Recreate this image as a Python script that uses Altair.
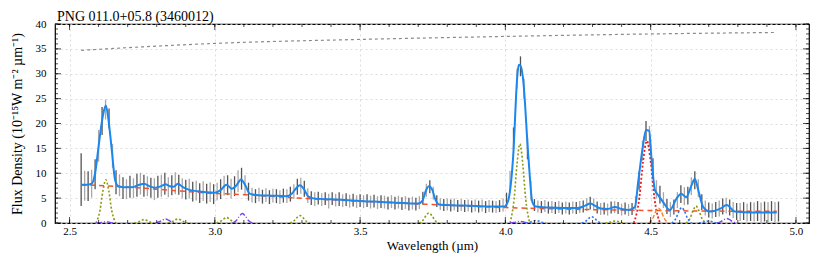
import altair as alt
import pandas as pd

TITLE = "PNG 011.0+05.8 (3460012)"
X_TITLE = "Wavelength (µm)"
Y_TITLE = "Flux Density (10⁻¹⁵W m⁻² µm⁻¹)"

X_MAJOR = [2.5, 3.0, 3.5, 4.0, 4.5, 5.0]
X_MINOR = [round(2.5 + 0.1 * i, 1) for i in range(26)]
Y_MAJOR = [0, 5, 10, 15, 20, 25, 30, 35, 40]
Y_MINOR = list(range(0, 41))

# observed spectrum (error bars)
OBS_START = 2.54
OBS_STEP = 0.012
OBS_FLUX = [
    8.7, 7.5, 7.4, 7.9, 9.8, 15.5, 20.5, 22.8, 21.0, 13.5,
    8.2, 7.6, 7.0, 6.8, 7.3, 7.0, 7.6, 7.9, 7.5, 7.4,
    7.1, 6.8, 7.3, 7.5, 7.9, 7.2, 7.6, 8.0, 7.7, 7.0,
    6.7, 6.9, 6.3, 6.5, 6.0, 6.4, 5.9, 6.2, 5.8, 6.3,
    6.8, 7.5, 7.6, 6.9, 7.4, 8.4, 8.9, 7.6, 6.3, 5.6,
    5.4, 5.7, 5.3, 5.6, 5.2, 5.5, 5.4, 5.2, 5.5, 5.4,
    5.8, 6.3, 7.3, 7.5, 6.9, 5.5, 5.0, 4.8, 5.0, 4.7,
    4.9, 4.4, 4.9, 4.6, 4.8, 4.5, 4.7, 4.4, 4.6, 4.3,
    4.5, 4.3, 4.5, 4.2, 4.4, 4.1, 4.3, 4.2, 4.0, 4.3,
    4.0, 4.2, 3.9, 4.1, 3.8, 4.0, 3.8, 4.1, 5.0, 6.6,
    7.3, 6.0, 4.4, 3.8, 3.6, 3.7, 3.5, 3.7, 3.4, 3.6,
    3.4, 3.5, 3.3, 3.5, 3.3, 3.5, 3.2, 3.4, 3.3, 3.2,
    3.4, 3.6, 4.6, 8.5, 17.0, 29.0, 31.5, 27.0, 15.0, 6.5,
    3.6, 3.3, 3.2, 3.4, 3.1, 3.2, 3.0, 3.2, 2.9, 3.1,
    2.9, 3.1, 3.0, 3.2, 3.3, 3.7, 4.0, 3.7, 3.1, 2.8,
    2.9, 2.7, 3.1, 3.2, 3.0, 2.7, 2.9, 2.6, 2.8, 4.0,
    8.5, 14.5, 18.5, 17.5, 11.0, 6.8, 5.7, 4.6, 3.3, 2.7,
    3.2, 4.6, 5.8, 5.4, 5.5, 7.4, 8.6, 7.0, 4.2, 3.0,
    2.6, 2.4, 2.7, 2.9, 3.3, 3.5, 3.1, 2.6, 2.3, 2.2,
    2.4, 2.1, 2.3, 2.2, 2.4, 2.1, 2.3, 2.2, 2.4, 2.2,
    2.3,
]
OBS_ERR = [
    5.3, 3.0, 3.0, 2.8, 3.0, 3.2, 2.8, 2.0, 2.0, 2.4,
    2.4, 2.2, 2.2, 2.0, 2.2, 2.0, 2.3, 2.2, 2.2, 2.0,
    2.0, 2.2, 2.2, 2.2, 2.2, 2.0, 2.0, 2.2, 2.0, 2.0,
    2.0, 2.0, 2.0, 2.0, 2.0, 2.0, 2.0, 2.0, 2.0, 1.8,
    2.0, 2.0, 2.0, 2.0, 2.0, 2.2, 2.2, 2.0, 1.8, 1.5,
    1.4, 1.4, 1.4, 1.4, 1.4, 1.4, 1.4, 1.4, 1.4, 1.4,
    1.5, 1.5, 1.6, 1.6, 1.6, 1.5, 1.4, 1.4, 1.3, 1.3,
    1.3, 1.5, 1.3, 1.3, 1.4, 1.3, 1.3, 1.3, 1.3, 1.3,
    1.3, 1.3, 1.3, 1.3, 1.3, 1.3, 1.3, 1.3, 1.3, 1.3,
    1.3, 1.3, 1.3, 1.3, 1.3, 1.3, 1.3, 1.3, 1.3, 1.3,
    1.3, 1.3, 1.2, 1.2, 1.2, 1.2, 1.2, 1.2, 1.2, 1.2,
    1.2, 1.2, 1.2, 1.2, 1.2, 1.2, 1.2, 1.2, 1.2, 1.2,
    1.2, 1.3, 1.5, 2.0, 2.2, 2.0, 2.0, 2.0, 2.2, 2.0,
    1.2, 1.2, 1.2, 1.2, 1.2, 1.2, 1.2, 1.2, 1.2, 1.2,
    1.2, 1.2, 1.2, 1.2, 1.2, 1.3, 1.3, 1.2, 1.2, 1.2,
    1.2, 1.2, 1.2, 1.2, 1.2, 1.2, 1.2, 1.2, 1.2, 1.4,
    1.8, 2.0, 2.0, 2.0, 2.0, 1.8, 1.8, 1.6, 1.5, 1.5,
    1.5, 1.6, 1.8, 1.8, 1.8, 1.8, 1.8, 1.8, 1.6, 1.5,
    1.5, 1.5, 1.5, 1.6, 1.6, 1.6, 1.6, 1.6, 1.7, 1.8,
    1.8, 1.8, 1.9, 1.9, 2.0, 2.0, 2.0, 2.0, 2.0, 2.0,
    2.0,
]

# total fit
FIT_WAVE = [2.540, 2.560, 2.576, 2.588, 2.599, 2.608, 2.616, 2.625, 2.634, 2.645,
            2.657, 2.668, 2.690, 2.715, 2.740, 2.757, 2.775, 2.795, 2.815, 2.830,
            2.845, 2.858, 2.873, 2.890, 2.910, 2.940, 2.970, 3.000, 3.020, 3.040,
            3.058, 3.075, 3.090, 3.105, 3.120, 3.150, 3.200, 3.245, 3.265, 3.280,
            3.293, 3.306, 3.322, 3.345, 3.400, 3.450, 3.500, 3.550, 3.600, 3.650,
            3.700, 3.715, 3.727, 3.737, 3.748, 3.760, 3.772, 3.800, 3.850, 3.900,
            3.950, 3.995, 4.008, 4.027, 4.041, 4.046, 4.053, 4.061, 4.079, 4.093,
            4.105, 4.150, 4.200, 4.250, 4.275, 4.292, 4.308, 4.328, 4.350, 4.377,
            4.400, 4.425, 4.446, 4.457, 4.472, 4.484, 4.495, 4.503, 4.515, 4.526,
            4.543, 4.566, 4.589, 4.605, 4.622, 4.641, 4.652, 4.664, 4.681, 4.704,
            4.740, 4.762, 4.790, 4.850, 4.934]
FIT_FLUX = [7.7, 7.7, 7.9, 10.0, 14.9, 19.0, 21.9, 23.6, 20.8, 14.9,
            8.6, 7.4, 7.2, 7.2, 7.7, 7.9, 7.4, 7.1, 7.4, 7.8,
            7.4, 7.3, 7.9, 7.2, 6.7, 6.4, 6.2, 6.1, 6.6, 7.7,
            6.9, 7.6, 8.75, 7.6, 5.9, 5.6, 5.5, 5.4, 5.9, 7.0,
            7.6, 6.9, 5.3, 4.9, 4.75, 4.6, 4.4, 4.3, 4.15, 4.0,
            3.9, 4.5, 6.6, 7.4, 6.7, 4.6, 3.7, 3.6, 3.5, 3.4,
            3.3, 3.3, 4.2, 13.5, 29.5, 31.8, 31.5, 28.9, 13.5, 4.2,
            3.3, 3.1, 3.0, 3.0, 3.5, 3.9, 3.5, 2.9, 2.8, 3.2,
            2.8, 2.6, 3.2, 8.2, 14.9, 18.7, 18.5, 12.9, 6.6, 5.6,
            4.2, 2.6, 4.9, 5.9, 5.2, 7.6, 8.9, 6.6, 3.2, 2.3,
            2.9, 3.6, 2.3, 2.1, 2.1]

# continuum
CONT_WAVE = [2.54, 2.65, 2.80, 3.00, 3.10, 3.30, 3.50, 3.75, 4.00, 4.20, 4.40, 4.60, 4.934]
CONT_FLUX = [7.7, 7.4, 6.8, 5.95, 5.7, 4.95, 4.4, 3.7, 3.1, 2.8, 2.6, 2.45, 2.35]

# upper grey dotted curve
TOP_WAVE = [2.54, 2.75, 3.00, 3.50, 4.00, 4.50, 4.934]
TOP_FLUX = [34.7, 35.4, 36.1, 36.9, 37.5, 38.0, 38.3]

# line components: style -> list of components, each a list of (wavelength, flux)
COMPONENTS = {
    "olive": [
        [(2.591, 0), (2.605, 2.6), (2.615, 6.5), (2.625, 8.7), (2.635, 6.5), (2.645, 2.6), (2.659, 0)],
        [(2.723, 0), (2.737, 0.2), (2.747, 0.5), (2.757, 0.7), (2.767, 0.5), (2.777, 0.2), (2.791, 0)],
        [(2.839, 0), (2.853, 0.25), (2.863, 0.6), (2.873, 0.8), (2.883, 0.6), (2.893, 0.25), (2.907, 0)],
        [(3.006, 0), (3.020, 0.35), (3.030, 0.8), (3.040, 1.1), (3.050, 0.8), (3.060, 0.35), (3.074, 0)],
        [(3.259, 0), (3.273, 0.45), (3.283, 1.1), (3.293, 1.5), (3.303, 1.1), (3.313, 0.45), (3.327, 0)],
        [(3.703, 0), (3.717, 0.6), (3.727, 1.5), (3.737, 2.0), (3.747, 1.5), (3.757, 0.6), (3.771, 0)],
        [(4.016, 0), (4.030, 4.8), (4.040, 11.8), (4.050, 15.9), (4.060, 11.8), (4.070, 4.8), (4.084, 0)],
        [(4.344, 0), (4.358, 0.12), (4.368, 0.3), (4.378, 0.4), (4.388, 0.3), (4.398, 0.12), (4.412, 0)],
        [(4.622, 0), (4.636, 1.0), (4.646, 2.5), (4.656, 3.4), (4.666, 2.5), (4.676, 1.0), (4.690, 0)],
    ],
    "purple": [
        [(2.591, 0), (2.605, 0.08), (2.615, 0.18), (2.625, 0.25), (2.635, 0.18), (2.645, 0.08), (2.659, 0)],
        [(2.796, 0), (2.810, 0.25), (2.820, 0.6), (2.830, 0.8), (2.840, 0.6), (2.850, 0.25), (2.864, 0)],
        [(3.061, 0), (3.075, 0.57), (3.085, 1.4), (3.095, 1.9), (3.105, 1.4), (3.115, 0.57), (3.129, 0)],
        [(4.016, 0), (4.030, 0.1), (4.040, 0.26), (4.050, 0.35), (4.060, 0.26), (4.070, 0.1), (4.084, 0)],
        [(4.728, 0), (4.742, 0.27), (4.752, 0.68), (4.762, 0.9), (4.772, 0.68), (4.782, 0.27), (4.796, 0)],
    ],
    "blue": [
        [(4.071, 0), (4.085, 0.15), (4.095, 0.38), (4.105, 0.5), (4.115, 0.38), (4.125, 0.15), (4.139, 0)],
        [(4.263, 0), (4.277, 0.38), (4.287, 0.94), (4.297, 1.25), (4.307, 0.94), (4.317, 0.38), (4.331, 0)],
        [(4.573, 0), (4.587, 0.93), (4.597, 2.3), (4.607, 3.1), (4.617, 2.3), (4.627, 0.93), (4.641, 0)],
        [(4.666, 0), (4.680, 0.12), (4.690, 0.3), (4.700, 0.4), (4.710, 0.3), (4.720, 0.12), (4.734, 0)],
    ],
    "red": [
        [(4.442, 0), (4.461, 5.0), (4.474, 12.4), (4.487, 16.5), (4.500, 12.4), (4.513, 5.0), (4.532, 0)],
    ],
    "orange": [
        [(4.493, 0), (4.507, 0.9), (4.517, 2.25), (4.527, 3.0), (4.537, 2.25), (4.547, 0.9), (4.561, 0)],
    ],
}

W, H = 754, 199
FONT = "Liberation Serif"
XS = alt.Scale(domain=[2.45, 5.045], nice=False, zero=False)
YS = alt.Scale(domain=[0, 40], nice=False, zero=False)

GRID = dict(grid=True, gridDash=[2, 3], gridColor="#d4d4d4", gridWidth=0.8,
            ticks=False, domain=False, labelFont=FONT, titleFont=FONT,
            labelColor="black", titleColor="black", titleFontWeight="normal")
XAX = alt.Axis(values=X_MAJOR, format=".1f", labelPadding=2, titlePadding=3,
               labelFontSize=11, titleFontSize=13, title=X_TITLE, **GRID)
YAX = alt.Axis(values=Y_MAJOR, labelPadding=9, titlePadding=11,
               labelFontSize=11, titleFontSize=14, title=Y_TITLE, **GRID)

def X(field):
    return alt.X(field, scale=XS, axis=XAX, title=X_TITLE)

def Y(field):
    return alt.Y(field, scale=YS, axis=YAX, title=Y_TITLE)

obs = pd.DataFrame({
    "w": [round(OBS_START + OBS_STEP * i, 3) for i in range(len(OBS_FLUX))],
    "f": OBS_FLUX,
    "e": OBS_ERR,
})
obs["lo"] = obs["f"] - obs["e"]
obs["hi"] = obs["f"] + obs["e"]
obs["shade"] = ["a" if i % 2 == 0 else "b" for i in range(len(obs))]

bars = alt.Chart(obs).mark_rule(strokeWidth=1.3, clip=True).encode(
    x=X("w:Q"),
    y=Y("lo:Q"),
    y2="hi:Q",
    color=alt.Color("shade:N", scale=alt.Scale(domain=["a", "b"], range=["#545454", "#a8a8a8"]),
                    legend=None),
)

def line_layer(wave, flux, **style):
    df = pd.DataFrame({"w": wave, "f": flux})
    return alt.Chart(df).mark_line(clip=True, **style).encode(x=X("w:Q"), y=Y("f:Q"))

top = line_layer(TOP_WAVE, TOP_FLUX, color="#8a8a8a", strokeDash=[3, 3], strokeWidth=1.2,
                 interpolate="monotone")
cont = line_layer(CONT_WAVE, CONT_FLUX, color="#f2522e", strokeDash=[5, 4], strokeWidth=1.5,
                  interpolate="monotone")

STYLES = {
    "olive": dict(color="#8c9a10", strokeDash=[2, 2], strokeWidth=1.6),
    "purple": dict(color="#7a45e6", strokeDash=[6, 2, 1, 2], strokeWidth=1.4),
    "blue": dict(color="#2f72f5", strokeDash=[2, 2], strokeWidth=1.6),
    "red": dict(color="#ee1c1c", strokeDash=[2, 2], strokeWidth=1.8),
    "orange": dict(color="#ff7f1e", strokeDash=[4, 2], strokeWidth=1.4),
}
comp_layers = []
for style, comps in COMPONENTS.items():
    rows = []
    for cid, pts in enumerate(comps):
        for w, f in pts:
            rows.append({"cid": cid, "w": w, "f": f})
    df = pd.DataFrame(rows)
    comp_layers.append(
        alt.Chart(df).mark_line(clip=True, interpolate="monotone", **STYLES[style]).encode(
            x=X("w:Q"), y=Y("f:Q"), detail="cid:N",
        )
    )

fit = line_layer(FIT_WAVE, FIT_FLUX, color="#1a86ee", strokeWidth=2.0, interpolate="monotone")

def tick_layer(values, side, length):
    df = pd.DataFrame({"w": values, "f": values})
    mark = alt.Chart(df).mark_tick(color="black", thickness=1, size=length)
    if side in ("bottom", "top"):
        ypix = H - length / 2 if side == "bottom" else length / 2
        return mark.encode(x=X("w:Q"), y=alt.value(ypix))
    xpix = length / 2 if side == "left" else W - length / 2
    return mark.encode(y=Y("f:Q"), x=alt.value(xpix))

ticks = [
    tick_layer(X_MINOR, "bottom", 3), tick_layer(X_MINOR, "top", 3),
    tick_layer(X_MAJOR, "bottom", 6), tick_layer(X_MAJOR, "top", 6),
    tick_layer(Y_MINOR, "left", 3), tick_layer(Y_MINOR, "right", 3),
    tick_layer(Y_MAJOR, "left", 6), tick_layer(Y_MAJOR, "right", 6),
]

title_layer = alt.Chart(pd.DataFrame({"t": [TITLE]})).mark_text(
    font=FONT, fontSize=14, color="black", align="left", baseline="alphabetic"
).encode(text="t:N", x=alt.value(2), y=alt.value(-3.5))

chart = alt.layer(bars, top, cont, *comp_layers, fit, *ticks, title_layer).properties(
    width=W, height=H,
    autosize=alt.AutoSizeParams(type="none"),
    padding={"left": 47, "top": 16, "right": 13, "bottom": 30},
).configure_view(
    stroke="black", strokeWidth=1.2
)

chart.save("out.html", embed_options={"renderer": "svg", "actions": False})
